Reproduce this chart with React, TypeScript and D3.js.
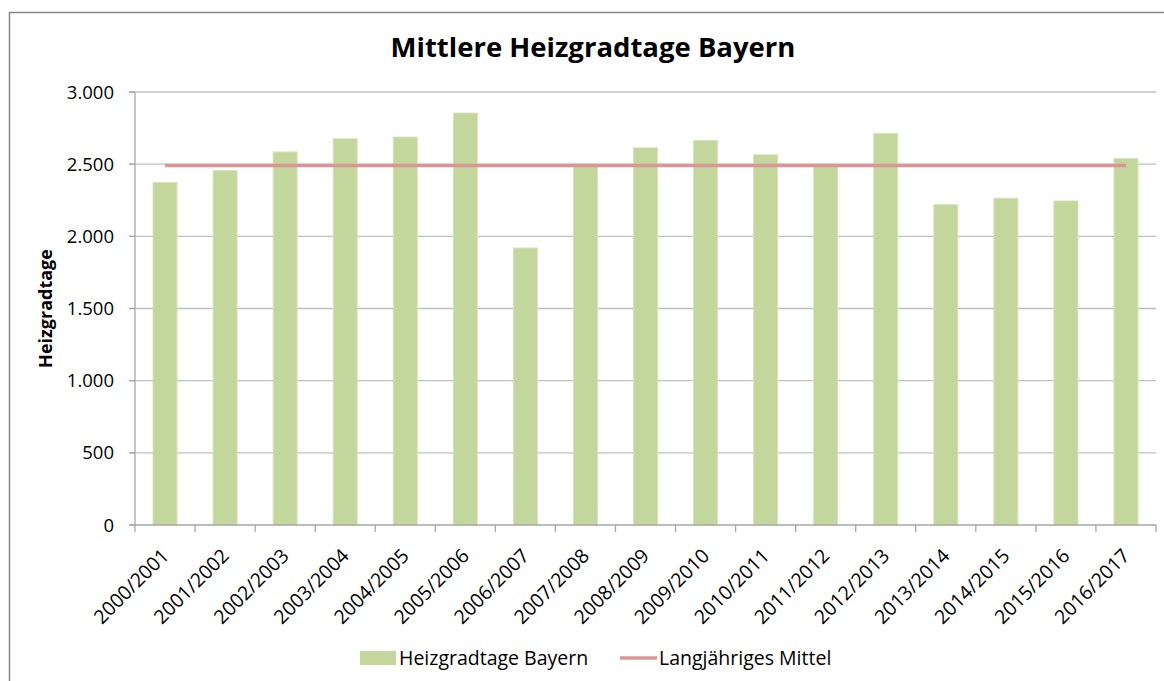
import React from "react";
import * as d3 from "d3";

const categories = [
  "2000/2001", "2001/2002", "2002/2003", "2003/2004", "2004/2005", "2005/2006",
  "2006/2007", "2007/2008", "2008/2009", "2009/2010", "2010/2011", "2011/2012",
  "2012/2013", "2013/2014", "2014/2015", "2015/2016", "2016/2017",
];
const heizgradtage = [2373, 2456, 2585, 2676, 2688, 2854, 1919, 2486, 2613, 2664, 2565, 2488, 2713, 2220, 2264, 2245, 2539];
const mittel = 2490;
const yTicks = [0, 500, 1000, 1500, 2000, 2500, 3000];

const W = 1164;
const H = 681;
const M = { left: 135, right: 1156, top: 92, bottom: 525 };
const FONT = "'Open Sans', 'Noto Sans', sans-serif";

export default function App() {
  const x = d3.scaleBand<string>().domain(categories).range([M.left, M.right]).paddingInner(0.6).paddingOuter(0.3);
  const y = d3.scaleLinear().domain([0, 3000]).range([M.bottom, M.top]);
  const fmt = (v: number) => d3.format(",")(v).replace(/,/g, ".");
  const step = x.step();
  const boundaries = d3.range(categories.length + 1).map((i) => M.left + i * step);
  const line = d3.line<number>().x((_, i) => (x(categories[i]) as number) + x.bandwidth() / 2).y(() => y(mittel));
  const lineData = categories.map(() => mittel);

  return (
    <svg width={W} height={H} style={{ position: "absolute", left: 0, top: 0, background: "#fff" }} fontFamily={FONT}>
      <rect x={9.5} y={12.5} width={1200} height={720} fill="#fff" stroke="#868686" strokeWidth={1.5} />
      <text x={593} y={57} textAnchor="middle" fontSize={27.5} fontWeight="bold" fill="#000">
        Mittlere Heizgradtage Bayern
      </text>
      {yTicks.map((t) => (
        <g key={t}>
          {t > 0 && <line x1={M.left - 6} x2={M.right} y1={y(t)} y2={y(t)} stroke="#c0c0c0" strokeWidth={1.3} />}
          <line x1={M.left - 6} x2={M.left} y1={y(t)} y2={y(t)} stroke="#a6a6a6" strokeWidth={1.3} />
          <text x={114} y={y(t)} dy="0.36em" textAnchor="end" fontSize={18.5} fill="#000">
            {fmt(t)}
          </text>
        </g>
      ))}
      {categories.map((c, i) => (
        <rect key={c} x={x(c)} y={y(heizgradtage[i])} width={x.bandwidth()} height={y(0) - y(heizgradtage[i])} fill="#c3d69b" stroke="#d7e4bd" strokeWidth={1} />
      ))}
      <path d={line(lineData) as string} fill="none" stroke="#da9694" strokeWidth={3.5} />
      <line x1={M.left} x2={M.left} y1={M.top} y2={M.bottom} stroke="#a6a6a6" strokeWidth={1.3} />
      <line x1={M.left - 6} x2={M.right} y1={M.bottom} y2={M.bottom} stroke="#a6a6a6" strokeWidth={1.3} />
      {boundaries.map((b, i) => (
        <line key={i} x1={b} x2={b} y1={M.bottom} y2={M.bottom + 7} stroke="#a6a6a6" strokeWidth={1.3} />
      ))}
      {categories.map((c) => {
        const cx = (x(c) as number) + x.bandwidth() / 2 + 5;
        return (
          <text key={c} transform={`translate(${cx},557) rotate(-45)`} textAnchor="end" fontSize={19.5} fill="#000">
            {c}
          </text>
        );
      })}
      <text transform={`translate(52,${(M.top + M.bottom) / 2}) rotate(-90)`} textAnchor="middle" fontSize={18} fontWeight="bold" fill="#000">
        Heizgradtage
      </text>
      <rect x={360} y={651} width={36} height={14} fill="#c3d69b" />
      <text x={399} y={665} fontSize={19.5} fill="#000">Heizgradtage Bayern</text>
      <line x1={620} x2={657} y1={658} y2={658} stroke="#da9694" strokeWidth={3.5} />
      <text x={659} y={665} fontSize={19.5} fill="#000">Langjähriges Mittel</text>
    </svg>
  );
}
